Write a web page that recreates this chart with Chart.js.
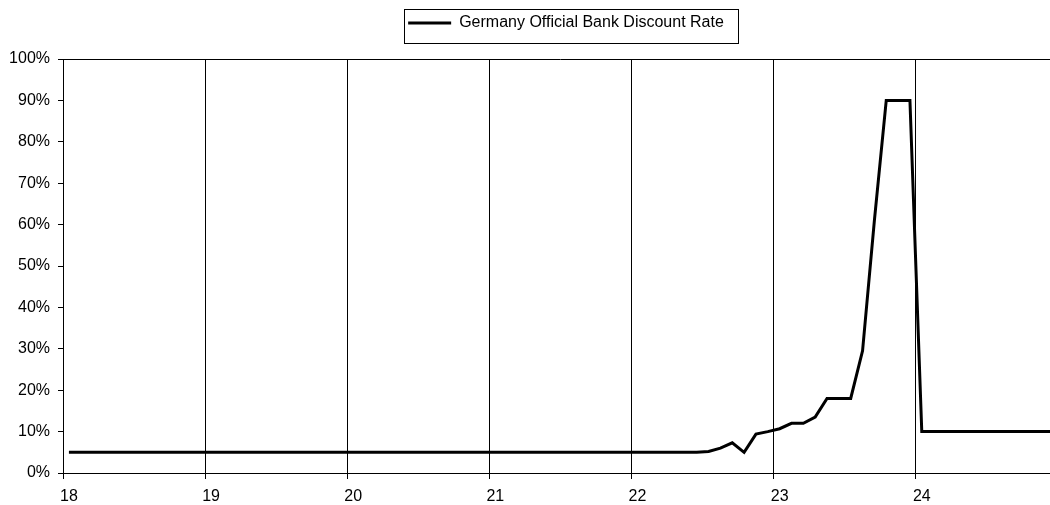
<!DOCTYPE html>
<html>
<head>
<meta charset="utf-8">
<script src="https://cdn.jsdelivr.net/npm/chart.js@4.4.1/dist/chart.umd.min.js"></script>
<style>
  html, body { margin: 0; padding: 0; background: #fff; overflow: hidden; }
  #wrap { width: 1072px; height: 505px; position: relative; }
</style>
</head>
<body>
<div id="wrap"><canvas id="c"></canvas></div>
<script>
// Years shown on the axis (1918–1924), one category per month
const years = ['18', '19', '20', '21', '22', '23', '24'];
const months = ['01','02','03','04','05','06','07','08','09','10','11','12'];
const categories = [];
years.forEach(y => months.forEach(m => categories.push(y + '-' + m)));

// Germany official bank discount rate, % (monthly, Jan 1918 – Dec 1924)
const discountRate = [
  5, 5, 5, 5, 5, 5, 5, 5, 5, 5, 5, 5,          // 1918
  5, 5, 5, 5, 5, 5, 5, 5, 5, 5, 5, 5,          // 1919
  5, 5, 5, 5, 5, 5, 5, 5, 5, 5, 5, 5,          // 1920
  5, 5, 5, 5, 5, 5, 5, 5, 5, 5, 5, 5,          // 1921
  5, 5, 5, 5, 5, 5, 5.2, 6, 7.3, 5, 9.4, 10,   // 1922
  10.7, 12, 12, 13.5, 18, 18, 18, 29.5, 61, 90, 90, 90, // 1923
  10, 10, 10, 10, 10, 10, 10, 10, 10, 10, 10, 10  // 1924
];

const yTicks = [0, 10, 20, 30, 40, 50, 60, 70, 80, 90, 100];
const seriesName = 'Germany Official Bank Discount Rate';

const FONT = "'Liberation Sans', Arial, sans-serif";
const LEGEND_SHIFT = 37;

const frame = {
  id: 'frame',
  afterUpdate(chart) {
    const lg = chart.legend;
    if (lg) {
      const dy = -lg.top;
      lg.left += LEGEND_SHIFT;
      lg.right += LEGEND_SHIFT;
      lg.top += dy;
      lg.bottom += dy;
      (lg.legendHitBoxes || []).forEach(h => { h.left += LEGEND_SHIFT; h.top += dy; });
    }
  },
  afterDraw(chart) {
    const { ctx, chartArea: a } = chart;
    ctx.save();
    ctx.strokeStyle = '#000';
    ctx.lineWidth = 1;
    ctx.beginPath();
    ctx.moveTo(a.left, Math.round(a.top) + 0.5);
    ctx.lineTo(a.right, Math.round(a.top) + 0.5);
    ctx.moveTo(Math.round(a.right) + 0.5, a.top);
    ctx.lineTo(Math.round(a.right) + 0.5, a.bottom);
    ctx.stroke();
    // legend border
    const lg = chart.legend;
    if (lg && lg.legendHitBoxes && lg.legendHitBoxes.length) {
      const h = lg.legendHitBoxes[0];
      const x0 = Math.round(h.left - 4) + 0.5;
      const x1 = Math.round(h.left + h.width + 14) + 0.5;
      const y0 = Math.round(h.top - 6) + 0.5;
      const y1 = Math.round(h.top + h.height + 12) + 0.5;
      ctx.strokeRect(x0, y0, x1 - x0, y1 - y0);
    }
    ctx.restore();
  }
};

new Chart(document.getElementById('c'), {
  type: 'line',
  data: {
    labels: categories,
    datasets: [{
      label: seriesName,
      data: discountRate,
      borderColor: '#000',
      backgroundColor: '#000',
      borderWidth: 3,
      pointRadius: 0,
      tension: 0,
      fill: false
    }]
  },
  options: {
    responsive: true,
    maintainAspectRatio: false,
    animation: false,
    layout: { padding: { top: 0, right: 14, bottom: 0, left: 0 } },
    plugins: {
      tooltip: { enabled: false },
      legend: {
        display: true,
        position: 'top',
        labels: {
          usePointStyle: true,
          pointStyle: 'line',
          pointStyleWidth: 43,
          boxHeight: 16,
          color: '#000',
          font: { family: FONT, size: 16 },
          padding: 15
        }
      }
    },
    scales: {
      x: {
        type: 'category',
        offset: true,
        afterFit: s => { s.height = 32; },
        grid: {
          offset: true,
          drawOnChartArea: true,
          drawTicks: true,
          tickLength: 6,
          lineWidth: 1,
          color: ctx => (ctx.index % 12 === 0 ? '#000' : 'rgba(0,0,0,0)'),
          tickColor: ctx => (ctx.index % 12 === 0 ? '#000' : 'rgba(0,0,0,0)')
        },
        border: { display: true, color: '#000', width: 1 },
        ticks: {
          autoSkip: false,
          maxRotation: 0,
          minRotation: 0,
          padding: 8,
          color: '#000',
          font: { family: FONT, size: 16 },
          callback: function (v, i) {
            return i % 12 === 0 ? years[i / 12] : '';
          }
        }
      },
      y: {
        min: 0,
        max: 100,
        afterFit: s => { s.width = 63; s.paddingTop = 59; },
        afterBuildTicks: s => { s.ticks = yTicks.map(v => ({ value: v })); },
        grid: {
          drawOnChartArea: false,
          drawTicks: true,
          tickLength: 5,
          tickColor: '#000'
        },
        border: { display: true, color: '#000', width: 1 },
        ticks: {
          padding: 8,
          color: '#000',
          font: { family: FONT, size: 16 },
          callback: v => v + '%'
        }
      }
    }
  },
  plugins: [frame]
});
</script>
</body>
</html>
